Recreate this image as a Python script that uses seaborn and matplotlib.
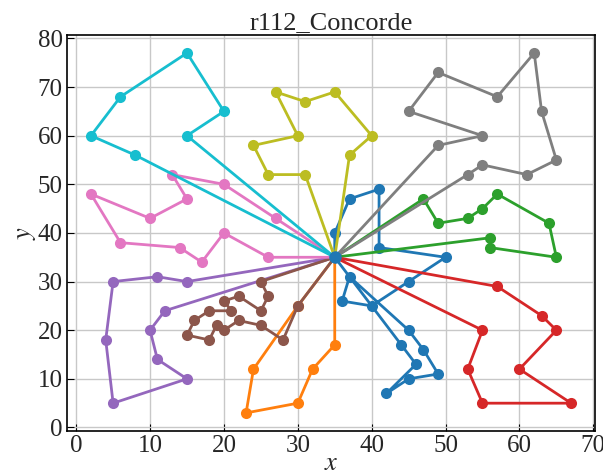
import matplotlib
matplotlib.use('Agg')
import matplotlib.pyplot as plt
import seaborn as sns
import pandas as pd

# depot and routes (x, y)
depot = (35, 35)

route_blue_x = [35, 37, 41, 41, 50, 45, 40, 36, 37, 45, 47, 49, 45, 42, 46, 44]
route_blue_y = [40, 47, 49, 37, 35, 30, 25, 26, 31, 20, 16, 11, 10, 7, 13, 17]

route_orange_x = [35, 32, 30, 23, 24, 30]
route_orange_y = [17, 12, 5, 3, 12, 25]

route_green_x = [47, 49, 53, 55, 57, 64, 65, 56, 56]
route_green_y = [47, 42, 43, 45, 48, 42, 35, 37, 39]

route_red_x = [57, 63, 65, 60, 67, 55, 53, 55]
route_red_y = [29, 23, 20, 12, 5, 5, 12, 20]

route_purple_x = [15, 11, 5, 4, 5, 15, 11, 10, 12]
route_purple_y = [30, 31, 30, 18, 5, 10, 14, 20, 24]

route_brown_x = [30, 28, 25, 22, 20, 19, 18, 15, 16, 18, 21, 20, 22, 25, 26, 25]
route_brown_y = [25, 18, 21, 22, 20, 21, 18, 19, 22, 24, 24, 26, 27, 24, 27, 30]

route_pink_x = [27, 20, 13, 15, 10, 2, 6, 14, 17, 20, 26]
route_pink_y = [43, 50, 52, 47, 43, 48, 38, 37, 34, 40, 35]

route_gray_x = [49, 55, 45, 49, 57, 62, 63, 65, 61, 55, 53]
route_gray_y = [58, 60, 65, 73, 68, 77, 65, 55, 52, 54, 52]

route_olive_x = [31, 26, 24, 30, 27, 31, 35, 40, 37]
route_olive_y = [52, 52, 58, 60, 69, 67, 69, 60, 56]

route_cyan_x = [15, 20, 15, 6, 2, 8]
route_cyan_y = [60, 65, 77, 68, 60, 56]

routes = [
    (route_blue_x, route_blue_y),
    (route_orange_x, route_orange_y),
    (route_green_x, route_green_y),
    (route_red_x, route_red_y),
    (route_purple_x, route_purple_y),
    (route_brown_x, route_brown_y),
    (route_pink_x, route_pink_y),
    (route_gray_x, route_gray_y),
    (route_olive_x, route_olive_y),
    (route_cyan_x, route_cyan_y),
]

sns.set_style('whitegrid')
plt.rcParams['font.family'] = ['Liberation Serif', 'DejaVu Serif']
plt.rcParams['mathtext.fontset'] = 'stix'

colors = sns.color_palette('tab10')

fig = plt.figure(figsize=(6.03, 4.73), dpi=100)
ax = fig.add_axes([0.111, 0.089, 0.876, 0.837])

for i, (rx, ry) in enumerate(routes):
    df = pd.DataFrame({'x': [depot[0]] + rx + [depot[0]],
                       'y': [depot[1]] + ry + [depot[1]]})
    sns.lineplot(data=df, x='x', y='y', sort=False, ax=ax, color=colors[i],
                 marker='o', markersize=8, markeredgewidth=0, linewidth=2,
                 estimator=None)

ax.plot([depot[0]], [depot[1]], 'o', color=colors[0], markersize=8)

ax.set_xticks(range(0, 71, 10))
ax.set_yticks(range(0, 81, 10))
ax.grid(True, color='#c8c8c8', linewidth=1)
ax.tick_params(direction='in', labelsize=18, length=5, left=True, bottom=True,
               color='black', pad=3)
for s in ax.spines.values():
    s.set_color('black')
    s.set_linewidth(1.2)

ax.set_title('r112_Concorde', fontsize=19, pad=4)
ax.set_xlabel('$x$', fontsize=19, labelpad=-3)
ax.set_ylabel('$y$', fontsize=19, labelpad=0)

fig.savefig('out.png', dpi=100)
